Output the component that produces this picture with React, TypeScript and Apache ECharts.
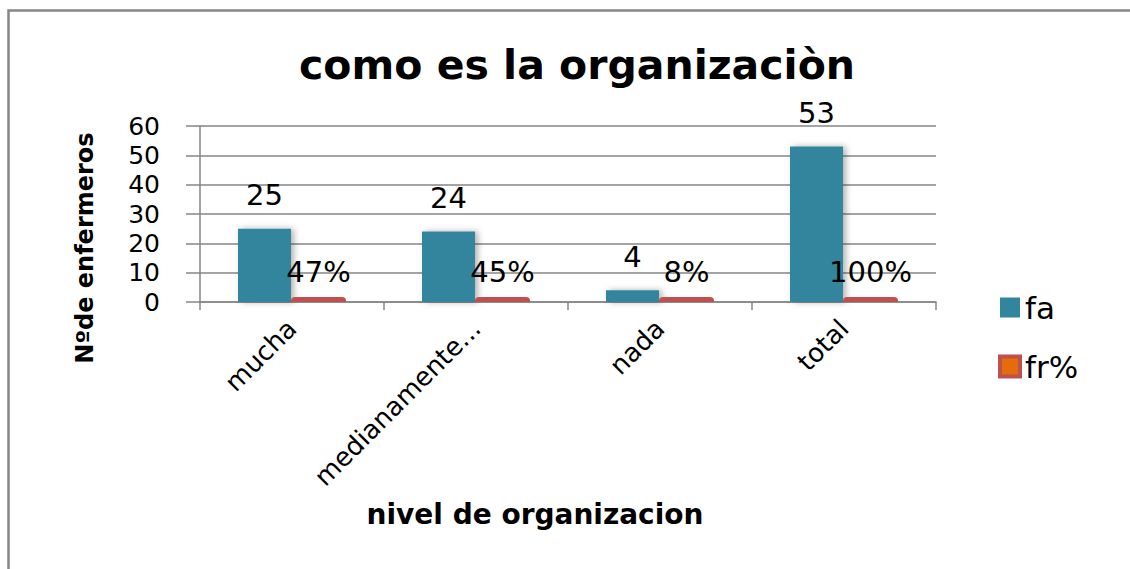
import React, { useEffect, useRef } from "react";
import * as echarts from "echarts";

const titleText = "como es la organizaciòn";
const yAxisTitle = "Nºde enfermeros";
const xAxisTitle = "nivel de organizacion";
const categories = ["mucha", "medianamente...", "nada", "total"];
const faValues = [25, 24, 4, 53];
const frValues = [0.47, 0.45, 0.08, 1.0];
const seriesNames = ["fa", "fr%"];
const yMin = 0;
const yMax = 60;
const yInterval = 10;

const FONT = "DejaVu Sans";
const GRAY = "#868686";
const TEAL = "#31859C";
const RED = "#C0504D";

export default function App() {
  const ref = useRef<HTMLDivElement>(null);
  useEffect(() => {
    if (!ref.current) return;
    const chart = echarts.init(ref.current, undefined, { renderer: "svg" });
    chart.setOption({
      animation: false,
      backgroundColor: "#ffffff",
      textStyle: { fontFamily: FONT },
      title: {
        text: titleText,
        left: 572,
        textAlign: "center",
        top: 39,
        textStyle: { fontFamily: FONT, fontSize: 41, fontWeight: "bold", color: "#000" },
      },
      legend: {
        orient: "vertical",
        left: 998,
        top: 292,
        itemWidth: 20,
        itemHeight: 20,
        itemGap: 28,
        padding: 0,
        icon: "rect",
        textStyle: { fontFamily: FONT, fontSize: 31, color: "#000" },
        data: [
          { name: seriesNames[0], itemStyle: { color: TEAL } },
          { name: seriesNames[1], itemStyle: { color: "#E46C0A", borderColor: RED, borderWidth: 4 } },
        ],
      },
      grid: { left: 200, right: 194, top: 126, bottom: 267, containLabel: false },
      xAxis: {
        type: "category",
        data: categories,
        axisLine: { show: true, lineStyle: { color: GRAY, width: 1.5 } },
        axisTick: { show: true, length: 8, lineStyle: { color: GRAY, width: 1.5 } },
        axisLabel: { rotate: 45, fontSize: 26, color: "#000", margin: 22, fontFamily: FONT },
        splitLine: { show: false },
      },
      yAxis: {
        type: "value",
        min: yMin,
        max: yMax,
        interval: yInterval,
        axisLine: { show: true, lineStyle: { color: GRAY, width: 1.5 } },
        axisTick: { show: true, length: 14, lineStyle: { color: GRAY, width: 1.5 } },
        axisLabel: { fontSize: 25, lineHeight: 25, color: "#000", margin: 40, fontFamily: FONT },
        splitLine: { show: true, lineStyle: { color: GRAY, width: 1.5 } },
      },
      series: [
        {
          name: seriesNames[0],
          type: "bar",
          data: faValues,
          barWidth: 53,
          barGap: "0%",
          itemStyle: {
            color: TEAL,
            shadowColor: "rgba(0,0,0,0.3)",
            shadowBlur: 6,
            shadowOffsetX: 3,
          },
          label: {
            show: true,
            position: "top",
            distance: 19,
            fontSize: 29,
            color: "#000",
            fontFamily: FONT,
          },
        },
        {
          name: seriesNames[1],
          type: "bar",
          data: frValues,
          barWidth: 55,
          barGap: "0%",
          barMinHeight: 5,
          itemStyle: { color: RED, borderRadius: [4, 4, 0, 0] },
          label: {
            show: true,
            position: "top",
            distance: 11,
            fontSize: 29,
            color: "#000",
            fontFamily: FONT,
            formatter: (p: any) => `${Math.round(p.value * 100)}%`,
          },
        },
      ],
      graphic: [
        {
          type: "rect",
          left: 6,
          top: 8,
          shape: { x: 0, y: 0, width: 1200, height: 600 },
          style: { fill: "none", stroke: GRAY, lineWidth: 2.5 },
          silent: true,
        },
        {
          type: "text",
          x: 85,
          y: 248,
          rotation: Math.PI / 2,
          style: {
            text: yAxisTitle,
            fontFamily: FONT,
            fontSize: 24,
            fontWeight: "bold",
            fill: "#000",
            align: "center",
            verticalAlign: "middle",
          },
        },
        {
          type: "text",
          x: 535,
          y: 514,
          style: {
            text: xAxisTitle,
            fontFamily: FONT,
            fontSize: 28,
            fontWeight: "bold",
            fill: "#000",
            align: "center",
            verticalAlign: "middle",
          },
        },
      ],
    });
    return () => chart.dispose();
  }, []);
  return (
    <div
      ref={ref}
      style={{ position: "fixed", left: 0, top: 0, width: 1130, height: 569 }}
    />
  );
}
